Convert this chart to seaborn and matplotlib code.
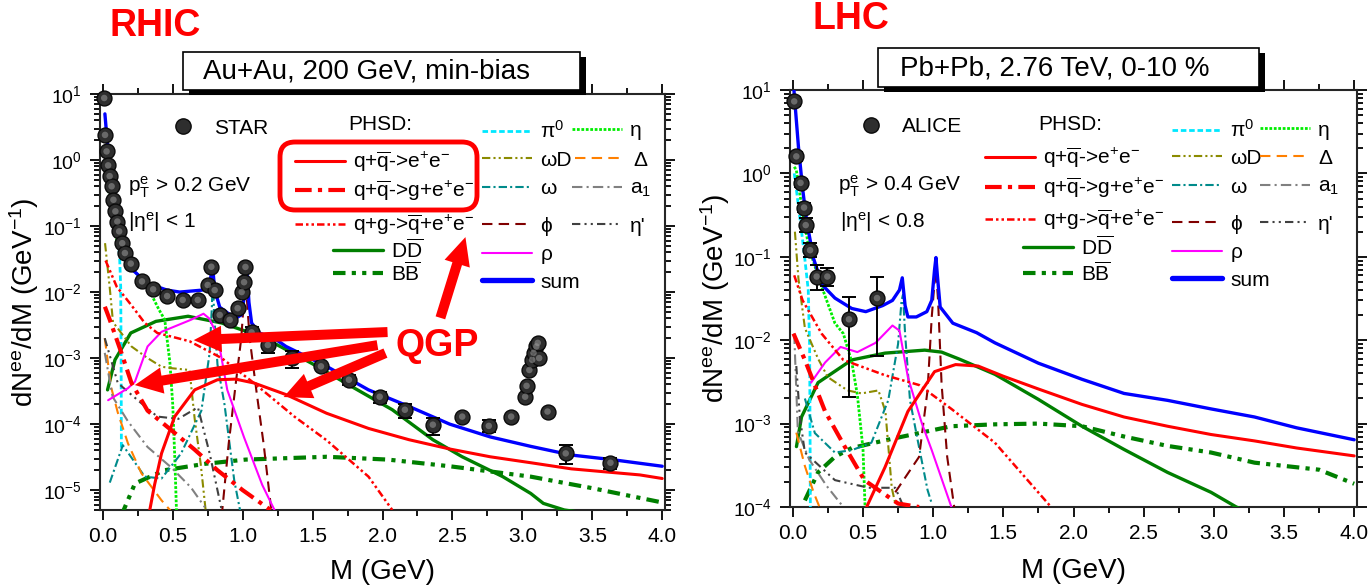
import matplotlib
matplotlib.use("Agg")
import matplotlib.pyplot as plt
import seaborn as sns
from matplotlib.lines import Line2D
from matplotlib.patches import FancyBboxPatch, Rectangle
from matplotlib.ticker import MultipleLocator, LogLocator, NullFormatter, FormatStrFormatter

# ---------------- RHIC (left) data ----------------
star_M = [0.010, 0.016, 0.027, 0.038, 0.049, 0.063, 0.076, 0.090, 0.104, 0.117, 0.139, 0.158,
          0.200, 0.280, 0.360, 0.460, 0.571, 0.679, 0.750, 0.776, 0.800, 0.836, 0.907, 0.964,
          0.993, 1.010, 1.020, 1.064, 1.180, 1.350, 1.560, 1.760, 1.980, 2.160, 2.360, 2.570,
          2.760, 2.920, 3.020, 3.030, 3.050, 3.070, 3.080, 3.100, 3.110, 3.120, 3.180, 3.310, 3.630]
star_y = [8.7, 2.4, 1.35, 0.83, 0.57, 0.40, 0.25, 0.167, 0.117, 0.083, 0.055, 0.039,
          0.027, 0.0145, 0.011, 0.0087, 0.0076, 0.0076, 0.0128, 0.0242, 0.0107, 0.0045, 0.0038, 0.0057,
          0.010, 0.0141, 0.024, 0.00245, 0.00158, 1.0e-3, 7.5e-4, 4.7e-4, 2.6e-4, 1.65e-4, 9.8e-5, 1.3e-4,
          9.4e-5, 1.3e-4, 2.6e-4, 3.8e-4, 6.6e-4, 9.4e-4, 1.2e-3, 1.5e-3, 1.7e-3, 1.0e-3, 1.55e-4, 3.6e-5, 2.6e-5]
star_err_M = [1.064, 1.180, 1.350, 1.760, 1.980, 2.160, 2.360, 2.760, 3.310, 3.630]
star_err_y = [0.00245, 0.00158, 1.0e-3, 4.7e-4, 2.6e-4, 1.65e-4, 9.8e-5, 9.4e-5, 3.6e-5, 2.6e-5]
star_err_lo = [0.0020, 0.00120, 7.0e-4, 3.9e-4, 2.1e-4, 1.25e-4, 6.9e-5, 7.5e-5, 2.5e-5, 2.1e-5]
star_err_hi = [0.0030, 0.00200, 1.3e-3, 5.6e-4, 3.1e-4, 2.05e-4, 1.25e-4, 1.15e-4, 4.8e-5, 3.1e-5]

L_sum_M = [0.015, 0.035, 0.076, 0.10, 0.14, 0.21, 0.32, 0.46, 0.55, 0.71, 0.76, 0.786, 0.80, 0.836,
           0.90, 0.957, 0.99, 1.01, 1.02, 1.03, 1.045, 1.064, 1.12, 1.24, 1.31, 1.6, 1.9, 2.19, 2.48,
           2.77, 3.06, 3.35, 3.64, 4.0]
L_sum = [5.0, 1.6, 0.35, 0.126, 0.039, 0.022, 0.0135, 0.0107, 0.010, 0.0107, 0.013, 0.023, 0.011, 0.0059,
         0.0047, 0.0041, 0.0045, 0.008, 0.016, 0.0224, 0.007, 0.0034, 0.0024, 0.0019, 0.0015, 7.5e-4, 3.3e-4,
         1.85e-4, 1.0e-4, 6.4e-5, 4.6e-5, 3.4e-5, 2.9e-5, 2.3e-5]
L_DD_M = [0.034, 0.087, 0.2, 0.38, 0.61, 0.85, 1.14, 1.49, 1.78, 2.07, 2.36, 2.57, 2.86, 3.06, 3.15, 3.3, 3.45]
L_DD = [3.3e-4, 9.4e-4, 2.4e-3, 3.6e-3, 4.3e-3, 3.4e-3, 2.1e-3, 8.4e-4, 3.7e-4, 1.65e-4, 5.8e-5, 3.2e-5,
        1.6e-5, 8.9e-6, 6.3e-6, 5e-6, 4.5e-6]
L_BB_M = [0.13, 0.23, 0.44, 0.73, 1.02, 1.6, 2.04, 2.48, 3.06, 3.5, 4.0]
L_BB = [4e-6, 1.26e-5, 2e-5, 2.5e-5, 2.9e-5, 3.2e-5, 2.9e-5, 2.3e-5, 1.6e-5, 1.07e-5, 6.5e-6]
L_qq_M = [0.336, 0.37, 0.42, 0.514, 0.657, 0.82, 0.95, 1.08, 1.31, 1.6, 1.9, 2.19, 2.48, 2.77, 3.06, 3.35, 3.84, 4.0]
L_qq = [5e-6, 1.2e-5, 3.6e-5, 1.3e-4, 3.3e-4, 4.7e-4, 4.8e-4, 4.2e-4, 2.8e-4, 1.46e-4, 8.6e-5, 5.8e-5,
        4.2e-5, 3.2e-5, 2.6e-5, 2.1e-5, 1.7e-5, 1.5e-5]
L_qqg_M = [0.015, 0.05, 0.133, 0.205, 0.32, 0.49, 0.657, 0.82, 1.0, 1.2]
L_qqg = [6e-3, 3.8e-3, 1.2e-3, 4.2e-4, 1.6e-4, 8.1e-5, 4.1e-5, 2e-5, 1e-5, 5e-6]
L_qgq_M = [0.02, 0.1, 0.2, 0.3, 0.39, 0.62, 0.85, 1.08, 1.37, 1.6, 1.9, 2.07]
L_qgq = [0.03, 0.012, 6.5e-3, 3.4e-3, 2.4e-3, 1.8e-3, 1.0e-3, 4.2e-4, 1.3e-4, 5.7e-5, 1.6e-5, 5e-6]
L_pi0_M = [0.01, 0.05, 0.1, 0.12, 0.128, 0.131, 0.133]
L_pi0 = [1.0, 0.4, 0.09, 0.035, 0.012, 1e-3, 4e-5]
L_eta_M = [0.015, 0.076, 0.1, 0.16, 0.32, 0.40, 0.443, 0.48, 0.50, 0.515, 0.53]
L_eta = [0.75, 0.126, 0.06, 0.031, 0.012, 5.5e-3, 3.8e-3, 8.5e-4, 2e-4, 3e-5, 3e-6]
L_omD_M = [0.016, 0.049, 0.073, 0.205, 0.32, 0.42, 0.5, 0.62, 0.657, 0.70, 0.74]
L_omD = [0.055, 0.012, 3.5e-3, 1.5e-3, 1e-3, 7.4e-4, 7e-4, 6.6e-4, 1.2e-4, 2.5e-5, 4e-6]
L_om_M = [0.05, 0.143, 0.3, 0.42, 0.56, 0.705, 0.764, 0.78, 0.787, 0.795, 0.82, 0.87, 0.94, 0.99]
L_om = [1.3e-5, 4.8e-5, 1.6e-5, 1.5e-5, 3.6e-5, 1.6e-4, 1.2e-3, 6e-3, 0.02, 5e-3, 8e-4, 2e-4, 1.4e-5, 4e-6]
L_phi_M = [0.85, 0.9, 0.95, 0.99, 1.01, 1.02, 1.03, 1.05, 1.1, 1.15, 1.21]
L_phi = [4e-6, 5e-5, 4e-4, 2e-3, 8e-3, 0.018, 8e-3, 2e-3, 3e-4, 5e-5, 4e-6]
L_rho_M = [0.038, 0.18, 0.23, 0.32, 0.42, 0.63, 0.72, 0.76, 0.82, 0.89, 1.01, 1.14, 1.25]
L_rho = [2.3e-4, 3.5e-4, 4.4e-4, 1.5e-3, 2.5e-3, 3.8e-3, 4.7e-3, 4e-3, 2.2e-3, 3.3e-4, 6.3e-5, 1.2e-5, 4e-6]
L_Del_M = [0.014, 0.06, 0.107, 0.18, 0.276, 0.42, 0.52]
L_Del = [2e-3, 3.6e-4, 1.5e-4, 5.1e-5, 1.8e-5, 7e-6, 4e-6]
L_a1_M = [0.014, 0.07, 0.18, 0.32, 0.49, 0.63, 0.73]
L_a1 = [1.2e-3, 2.6e-4, 1.1e-4, 4.5e-5, 2.2e-5, 1.1e-5, 5.5e-6]
L_etap_M = [0.014, 0.107, 0.25, 0.39, 0.54, 0.68, 0.764, 0.85]
L_etap = [2e-3, 4.2e-4, 2.3e-4, 1.3e-4, 1.2e-4, 1.8e-4, 3.6e-5, 5e-6]

# ---------------- LHC (right) data ----------------
alice_M = [0.010, 0.025, 0.055, 0.080, 0.092, 0.123, 0.170, 0.246, 0.400, 0.600]
alice_y = [7.3, 1.6, 0.77, 0.39, 0.24, 0.12, 0.058, 0.058, 0.0178, 0.032]
alice_lo = [6.5, 1.4, 0.68, 0.34, 0.20, 0.10, 0.040, 0.045, 2.1e-3, 6.5e-3]
alice_hi = [8.2, 1.8, 0.86, 0.44, 0.29, 0.145, 0.080, 0.074, 0.033, 0.058]

R_sum_M = [0.008, 0.04, 0.07, 0.1, 0.148, 0.21, 0.3, 0.42, 0.52, 0.64, 0.71, 0.76, 0.78, 0.80, 0.82, 0.88,
           0.955, 0.99, 1.01, 1.02, 1.03, 1.05, 1.14, 1.31, 1.44, 1.75, 2.06, 2.36, 2.67, 2.98, 3.29, 3.59, 4.0]
R_sum = [10, 2.1, 0.65, 0.26, 0.095, 0.046, 0.032, 0.024, 0.022, 0.026, 0.03, 0.04, 0.056, 0.026, 0.019,
         0.019, 0.022, 0.03, 0.07, 0.098, 0.06, 0.025, 0.016, 0.0123, 9.3e-3, 5.3e-3, 3.4e-3, 2.3e-3,
         1.9e-3, 1.5e-3, 1.2e-3, 8.9e-4, 6.4e-4]
R_DD_M = [0.026, 0.062, 0.18, 0.42, 0.657, 0.94, 1.06, 1.19, 1.44, 1.75, 2.06, 2.36, 2.67, 2.98, 3.16, 3.3]
R_DD = [5.3e-4, 1.2e-3, 3.1e-3, 5.8e-3, 7e-3, 7.6e-3, 7.2e-3, 5.9e-3, 3.9e-3, 1.95e-3, 9.3e-4, 4.9e-4,
        2.6e-4, 1.5e-4, 1.0e-4, 8e-5]
R_BB_M = [0.086, 0.18, 0.3, 0.42, 0.657, 0.9, 1.13, 1.44, 1.75, 2.06, 2.36, 2.67, 2.98, 3.29, 3.75, 4.0]
R_BB = [1.2e-4, 2.6e-4, 4e-4, 5.1e-4, 6.3e-4, 7.7e-4, 9.3e-4, 9.8e-4, 1.0e-3, 9.3e-4, 7e-4, 5.4e-4,
        4.5e-4, 3.4e-4, 2.8e-4, 1.9e-4]
R_qq_M = [0.526, 0.657, 0.82, 1.01, 1.16, 1.32, 1.5, 1.75, 2.06, 2.36, 2.67, 2.98, 3.29, 3.59, 4.0]
R_qq = [1e-4, 3e-4, 1.4e-3, 4.2e-3, 5.1e-3, 4.9e-3, 3.7e-3, 2.6e-3, 1.7e-3, 1.2e-3, 9.3e-4, 7.4e-4,
        6.2e-4, 5.1e-4, 4.1e-4]
R_qqg_M = [0.005, 0.086, 0.23, 0.37, 0.51, 0.61, 0.75, 0.9]
R_qqg = [0.012, 5.8e-3, 1.4e-3, 5.3e-4, 2.1e-4, 1.6e-4, 1.1e-4, 1e-4]
R_qgq_M = [0.01, 0.07, 0.205, 0.36, 0.657, 0.9, 1.13, 1.44, 1.84]
R_qgq = [0.06, 0.03, 0.012, 5.8e-3, 3.8e-3, 2.9e-3, 1.5e-3, 5.9e-4, 1e-4]
R_pi0_M = [0.01, 0.025, 0.08, 0.11, 0.12, 0.123, 0.125]
R_pi0 = [1.0, 0.65, 0.115, 0.04, 8e-3, 7e-4, 1e-4]
R_eta_M = [0.01, 0.025, 0.07, 0.114, 0.19, 0.3, 0.36, 0.42, 0.46, 0.50, 0.515]
R_eta = [1.2, 1.1, 0.34, 0.13, 0.052, 0.016, 0.012, 5.5e-3, 2.2e-3, 5e-4, 1e-4]
R_omD_M = [0.015, 0.04, 0.086, 0.18, 0.25, 0.39, 0.49, 0.61, 0.66, 0.705, 0.73]
R_omD = [0.2, 0.055, 0.014, 6e-3, 3.6e-3, 2.5e-3, 2.3e-3, 2.5e-3, 1.4e-3, 1.7e-4, 1.1e-4]
R_om_M = [0.086, 0.157, 0.3, 0.42, 0.56, 0.68, 0.75, 0.775, 0.785, 0.80, 0.835, 0.89, 0.96, 0.99]
R_om = [2e-3, 7.7e-4, 4.5e-4, 4.8e-4, 5.9e-4, 1.9e-3, 9e-3, 0.03, 0.035, 0.012, 1.9e-3, 6.3e-4, 1.6e-4, 1.1e-4]
R_phi_M = [0.73, 0.9, 0.96, 0.99, 1.01, 1.02, 1.035, 1.06, 1.1, 1.15]
R_phi = [1.5e-4, 4e-4, 2.5e-3, 0.019, 0.05, 0.07, 0.03, 3e-3, 4e-4, 1e-4]
R_rho_M = [0.13, 0.23, 0.34, 0.46, 0.59, 0.71, 0.76, 0.82, 0.92, 0.99, 1.13]
R_rho = [3.1e-3, 5.4e-3, 8.3e-3, 7.2e-3, 9.3e-3, 0.015, 0.013, 3.6e-3, 1e-3, 4.8e-4, 1e-4]
R_Del_M = [0.025, 0.086, 0.148, 0.19]
R_Del = [7.8e-4, 3.1e-4, 1.5e-4, 1e-4]
R_a1_M = [0.01, 0.036, 0.117, 0.24, 0.36]
R_a1 = [0.012, 8e-4, 3.7e-4, 1.8e-4, 1e-4]
R_etap_M = [0.025, 0.05, 0.086, 0.3, 0.54, 0.73, 0.79]
R_etap = [4.9e-3, 1.2e-3, 4.5e-4, 2.1e-4, 1.7e-4, 1.7e-4, 1e-4]

# ---------------- styles ----------------
STY = {
    'qq':   ('#ff0000', 2.2, '-'),
    'qqg':  ('#ff0000', 3.0, (0, (4, 1.5, 1, 1.5))),
    'qgq':  ('#ff0000', 1.8, (0, (3, 1.2, 1, 1.2, 1, 1.2))),
    'DD':   ('#007f00', 2.4, '-'),
    'BB':   ('#007f00', 3.0, (0, (3, 1.5, 1, 1.5, 1, 1.5))),
    'pi0':  ('#00e8ff', 2.0, (0, (2, 1))),
    'omD':  ('#8b8b00', 1.5, (0, (4, 1.5, 1, 1.5, 1, 1.5))),
    'om':   ('#008b8b', 1.5, (0, (4, 1.5, 1, 1.5))),
    'phi':  ('#800000', 1.5, (0, (5, 3))),
    'rho':  ('#ff00ff', 1.5, '-'),
    'sum':  ('#0000ff', 2.4, '-'),
    'eta':  ('#00ee00', 2.0, (0, (1, 0.6))),
    'Del':  ('#ff8000', 1.5, (0, (5, 3))),
    'a1':   ('#808080', 1.5, (0, (5, 2, 1, 2))),
    'etap': ('#404040', 1.5, (0, (4, 2, 1, 2, 1, 2))),
}
LABELS = {
    'qq': r'q+$\overline{\rm q}$->e$^{+}$e$^{-}$',
    'qqg': r'q+$\overline{\rm q}$->g+e$^{+}$e$^{-}$',
    'qgq': r'q+g->$\overline{\rm q}$+e$^{+}$e$^{-}$',
    'DD': r'D$\overline{\rm D}$',
    'BB': r'B$\overline{\rm B}$',
    'pi0': r'π$^{0}$', 'omD': 'ωD', 'om': 'ω', 'phi': 'ϕ', 'rho': 'ρ', 'sum': 'sum',
    'eta': 'η', 'Del': 'Δ', 'a1': r'a$_{1}$', 'etap': "η'",
}

sns.set_style("ticks")
plt.rcParams.update({
    'font.family': ['Liberation Sans', 'DejaVu Sans'],
    'mathtext.fontset': 'custom',
    'mathtext.rm': 'Liberation Sans',
    'mathtext.it': 'Liberation Sans:italic',
    'mathtext.bf': 'Liberation Sans:bold',
    'mathtext.sf': 'Liberation Sans',
    'axes.linewidth': 1.5,
    'text.color': 'black', 'axes.labelcolor': 'black',
    'xtick.color': 'black', 'ytick.color': 'black',
})

W, H = 1369, 588
fig = plt.figure(figsize=(W / 100, H / 100), dpi=100)


def fx(px):
    return px / W


def fy(py):
    return 1 - py / H


axL = fig.add_axes([fx(100), fy(510), fx(665) - fx(100), fy(94) - fy(510)])
axR = fig.add_axes([fx(790), fy(507), fx(1357) - fx(790), fy(90) - fy(507)])

for ax, ylo in ((axL, 5e-6), (axR, 1e-4)):
    ax.set_yscale('log')
    ax.set_xlim(-0.02, 4.02)
    ax.set_ylim(ylo, 10)

left_curves = [('DD', L_DD_M, L_DD), ('BB', L_BB_M, L_BB), ('pi0', L_pi0_M, L_pi0), ('eta', L_eta_M, L_eta),
               ('omD', L_omD_M, L_omD), ('om', L_om_M, L_om), ('phi', L_phi_M, L_phi),
               ('Del', L_Del_M, L_Del), ('a1', L_a1_M, L_a1), ('etap', L_etap_M, L_etap),
               ('rho', L_rho_M, L_rho), ('qgq', L_qgq_M, L_qgq), ('qqg', L_qqg_M, L_qqg),
               ('qq', L_qq_M, L_qq), ('sum', L_sum_M, L_sum)]
right_curves = [('DD', R_DD_M, R_DD), ('BB', R_BB_M, R_BB), ('pi0', R_pi0_M, R_pi0), ('eta', R_eta_M, R_eta),
                ('omD', R_omD_M, R_omD), ('om', R_om_M, R_om), ('phi', R_phi_M, R_phi),
                ('Del', R_Del_M, R_Del), ('a1', R_a1_M, R_a1), ('etap', R_etap_M, R_etap),
                ('rho', R_rho_M, R_rho), ('qgq', R_qgq_M, R_qgq), ('qqg', R_qqg_M, R_qqg),
                ('qq', R_qq_M, R_qq), ('sum', R_sum_M, R_sum)]

for ax, curves in ((axL, left_curves), (axR, right_curves)):
    for key, xs, ys in curves:
        c, lw, ls = STY[key]
        sns.lineplot(x=xs, y=ys, ax=ax, color=c, linewidth=lw, linestyle=ls,
                     estimator=None, sort=False, legend=False, zorder=3 if key != 'sum' else 4)

# data points
axL.errorbar(star_err_M, star_err_y,
             yerr=[[v - lo for v, lo in zip(star_err_y, star_err_lo)],
                   [hi - v for v, hi in zip(star_err_y, star_err_hi)]],
             fmt='none', ecolor='black', elinewidth=1.4, capsize=5, capthick=1.4, zorder=5)
axR.errorbar(alice_M, alice_y,
             yerr=[[v - lo for v, lo in zip(alice_y, alice_lo)],
                   [hi - v for v, hi in zip(alice_y, alice_hi)]],
             fmt='none', ecolor='black', elinewidth=1.4, capsize=5, capthick=1.4, zorder=5)
for ax, xs, ys in ((axL, star_M, star_y), (axR, alice_M, alice_y)):
    sns.scatterplot(x=xs, y=ys, ax=ax, s=115, color='#2e2e2e', edgecolor='#0a0a0a',
                    linewidth=1.0, zorder=6, clip_on=False, legend=False)
    sns.scatterplot(x=xs, y=ys, ax=ax, s=22, color='#9a9a9a', edgecolor='none',
                    alpha=0.55, zorder=7, clip_on=False, legend=False)

# axes styling
for ax in (axL, axR):
    ax.xaxis.set_major_locator(MultipleLocator(0.5))
    ax.xaxis.set_minor_locator(MultipleLocator(0.25))
    ax.xaxis.set_major_formatter(FormatStrFormatter('%.1f'))
    ax.yaxis.set_major_locator(LogLocator(base=10, numticks=20))
    ax.yaxis.set_minor_locator(LogLocator(base=10, subs=range(2, 10), numticks=20))
    ax.yaxis.set_minor_formatter(NullFormatter())
    ax.tick_params(which='both', direction='out', top=True, right=True, labelsize=15, width=1.3)
    ax.tick_params(which='major', length=7)
    ax.tick_params(which='minor', length=4)
    ax.tick_params(axis='x', which='major', pad=5)
    ax.tick_params(axis='y', which='major', pad=6, labelsize=14)
    for s in ax.spines.values():
        s.set_linewidth(1.5)
        s.set_visible(True)
    ax.set_xlabel('M (GeV)', fontsize=20)
    ax.set_ylabel(r'dN$^{\rm ee}$/dM (GeV$^{-1}$)', fontsize=20)
axL.xaxis.set_label_coords(0.5, -0.118)
axR.xaxis.set_label_coords(0.5, -0.122)
axL.yaxis.set_label_coords(-0.105, 0.5)
axR.yaxis.set_label_coords(-0.102, 0.5)

# ---------------- legends (one per entry) ----------------
LEG_FS = 15


def entry(key, px, py, lw_boost=1.0):
    c, lw, ls = STY[key]
    h = Line2D([], [], color=c, lw=lw * lw_boost, ls=ls)
    fig.legend(handles=[h], labels=[LABELS[key]], loc='center left',
               bbox_to_anchor=(fx(px), fy(py)), bbox_transform=fig.transFigure,
               frameon=False, fontsize=LEG_FS, handlelength=2.4, handletextpad=0.4,
               borderpad=0, borderaxespad=0)


layout_left = [('qq', 295, 162), ('qqg', 295, 191), ('qgq', 295, 225), ('DD', 333, 250), ('BB', 333, 273),
               ('pi0', 482, 131), ('omD', 482, 160), ('om', 482, 189), ('phi', 482, 226), ('rho', 482, 255),
               ('sum', 482, 282), ('eta', 572, 131), ('Del', 575, 160), ('a1', 572, 189), ('etap', 572, 226)]
layout_right = [('qq', 985, 158), ('qqg', 985, 188), ('qgq', 985, 220), ('DD', 1023, 247), ('BB', 1023, 273),
                ('pi0', 1172, 130), ('omD', 1172, 158), ('om', 1172, 187), ('phi', 1172, 224), ('rho', 1172, 253),
                ('sum', 1172, 280), ('eta', 1260, 130), ('Del', 1260, 158), ('a1', 1260, 187), ('etap', 1260, 224)]
for key, px, py in layout_left + layout_right:
    entry(key, px, py, 1.6 if key == 'sum' else 1.0)

# data-set legend entries
for name, px, py in (('STAR', 170, 128), ('ALICE', 858, 127)):
    h = Line2D([], [], marker='o', ls='', mfc='#2e2e2e', mec='#0a0a0a', ms=11)
    fig.legend(handles=[h], labels=[name], loc='center left', bbox_to_anchor=(fx(px), fy(py)),
               bbox_transform=fig.transFigure, frameon=False, fontsize=LEG_FS, handlelength=1.2,
               handletextpad=0.9, borderpad=0, borderaxespad=0)

fig.text(fx(348), fy(125), 'PHSD:', fontsize=LEG_FS, ha='left', va='center')
fig.text(fx(1038), fy(125), 'PHSD:', fontsize=LEG_FS, ha='left', va='center')
fig.text(fx(128), fy(187), r'p$_{\rm T}^{\rm e}$ > 0.2 GeV', fontsize=LEG_FS, ha='left', va='center')
fig.text(fx(128), fy(222), r'|η$^{\rm e}$| < 1', fontsize=LEG_FS, ha='left', va='center')
fig.text(fx(838), fy(186), r'p$_{\rm T}^{\rm e}$ > 0.4 GeV', fontsize=LEG_FS, ha='left', va='center')
fig.text(fx(840), fy(222), r'|η$^{\rm e}$| < 0.8', fontsize=LEG_FS, ha='left', va='center')

# red rounded box around the q+qbar entries
fig.patches.append(FancyBboxPatch((fx(280), fy(210)), fx(477) - fx(280), fy(142) - fy(210),
                                  boxstyle='round,pad=0,rounding_size=0.011', mutation_aspect=W / H,
                                  transform=fig.transFigure, ec='#ff0000', fc='none', lw=3.5, zorder=10))

# titles
fig.text(fx(109), fy(26), 'RHIC', color='#ff0000', fontsize=27, fontweight='bold', ha='left', va='center')
fig.text(fx(813), fy(1), 'LHC', color='#ff0000', fontsize=27, fontweight='bold', ha='left', va='top')

for (x0, y0, x1, y1, tx, txt) in ((183, 52, 580, 90, 203, 'Au+Au, 200 GeV, min-bias'),
                                  (878, 48, 1259, 87, 900, 'Pb+Pb, 2.76 TeV, 0-10 %')):
    fig.patches.append(Rectangle((fx(x0 + 6), fy(y1 + 5)), fx(x1) - fx(x0), fy(y0) - fy(y1),
                                 transform=fig.transFigure, fc='black', ec='none', zorder=10))
    fig.patches.append(Rectangle((fx(x0), fy(y1)), fx(x1) - fx(x0), fy(y0) - fy(y1),
                                 transform=fig.transFigure, fc='white', ec='black', lw=1.2, zorder=11))
    fig.text(fx(tx), fy((y0 + y1) / 2 + 1), txt, fontsize=20, ha='left', va='center', zorder=12)

# QGP annotation
axL.text(2.39, 1.5e-3, 'QGP', color='#ff0000', fontsize=27, fontweight='bold', ha='center', va='center', zorder=8)
arrows = [((2.036, 2.48e-3), (0.65, 1.87e-3)),
          ((1.964, 1.57e-3), (0.229, 3.9e-4)),
          ((2.021, 1.19e-3), (1.293, 2.57e-4)),
          ((2.414, 4.07e-3), (2.593, 0.068))]
for tail, head in arrows:
    axL.annotate('', xy=head, xytext=tail, annotation_clip=False,
                 arrowprops=dict(arrowstyle='simple,head_length=1.0,head_width=0.95,tail_width=0.36',
                                 mutation_scale=20, fc='#ff0000', ec='none', shrinkA=0, shrinkB=0),
                 zorder=8)

fig.savefig('out.png', dpi=100)
